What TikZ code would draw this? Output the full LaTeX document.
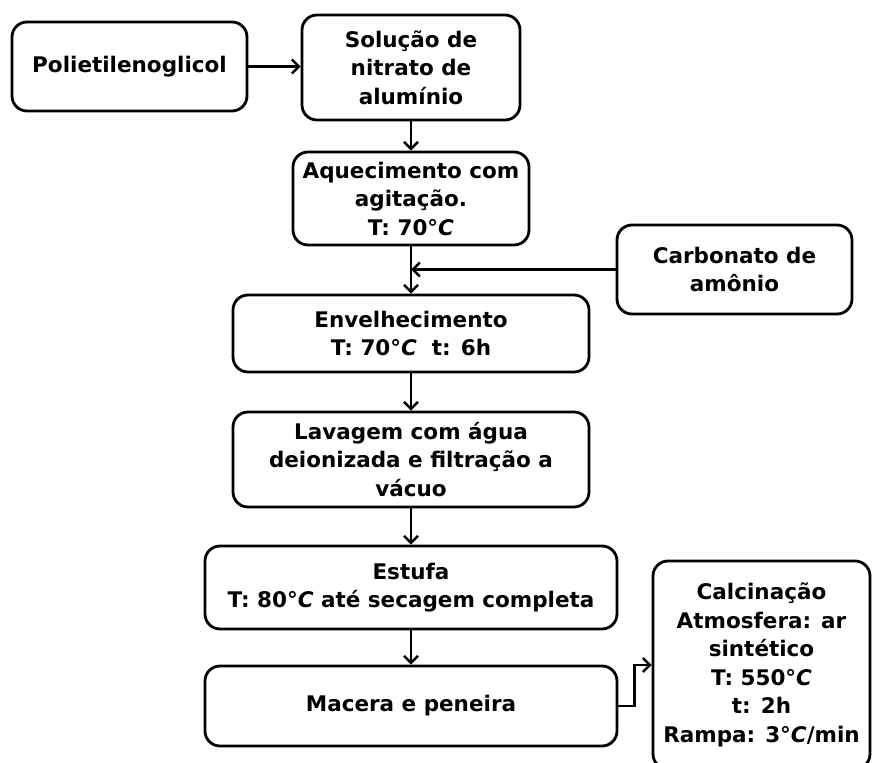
\documentclass[tikz,border=0pt]{standalone}
\usepackage{fontspec}
\setmainfont{DejaVu Sans}
\usetikzlibrary{arrows.meta}
\newcommand{\degC}{°\textit{C}}
\begin{document}
\begin{tikzpicture}[x=1pt,y=-1pt,
  box/.style={draw, line width=2.8pt, rounded corners=15pt, align=center,
    inner sep=0pt, font=\bfseries\fontsize{21.5}{28.5}\selectfont},
  flow/.style={line width=2.5pt, -{Straight Barb[length=7pt,width=14pt,line width=2.5pt]}}]
\useasboundingbox (0,0) rectangle (876,763);
\begin{scope}
\clip (0,0) rectangle (876,763);
% process steps
\node[box, minimum width=235pt, minimum height=89pt] (peg) at (129.5,66.5) {Polietilenoglicol};
\node[box, minimum width=218pt, minimum height=105pt] (sol) at (411,67.5) {Solução de\\nitrato de\\alumínio};
\node[box, minimum width=236pt, minimum height=93pt] (aq) at (411,198.5) {Aquecimento com\\agitação.\\T: 70\degC};
\node[box, minimum width=235pt, minimum height=89pt] (carb) at (734.5,269.5) {Carbonato de\\amônio};
\node[box, minimum width=356pt, minimum height=77pt] (env) at (411,333.5) {Envelhecimento\\T: 70\degC\ \ t: 6h};
\node[box, minimum width=356pt, minimum height=95pt] (lav) at (411,459.5) {Lavagem com água\\deionizada e filtração a\\vácuo};
\node[box, minimum width=412pt, minimum height=83pt] (est) at (411,587.5) {Estufa\\T: 80\degC\ até secagem completa};
\node[box, minimum width=412pt, minimum height=80pt] (mac) at (411,706) {Macera e peneira};
\node[box, minimum width=217pt, minimum height=208pt] (calc) at (761.5,665) {Calcinação\\Atmosfera: ar\\sintético\\T: 550\degC\\t: 2h\\Rampa: 3\degC/min};
\end{scope}
% connectors
\coordinate (join) at (aq.south |- carb.west);
\draw[flow] (peg.east) -- (sol.west |- peg.east);
\draw[flow] (sol.south) -- (aq.north);
\draw[flow] (aq.south) -- (env.north);
\draw[flow] (carb.west) -- (join);
\draw[flow] (env.south) -- (lav.north);
\draw[flow] (lav.south) -- (est.north);
\draw[flow] (est.south) -- (mac.north);
\draw[flow] (mac.east) -- ++(16,0) |- (calc.west);
\end{tikzpicture}
\end{document}
